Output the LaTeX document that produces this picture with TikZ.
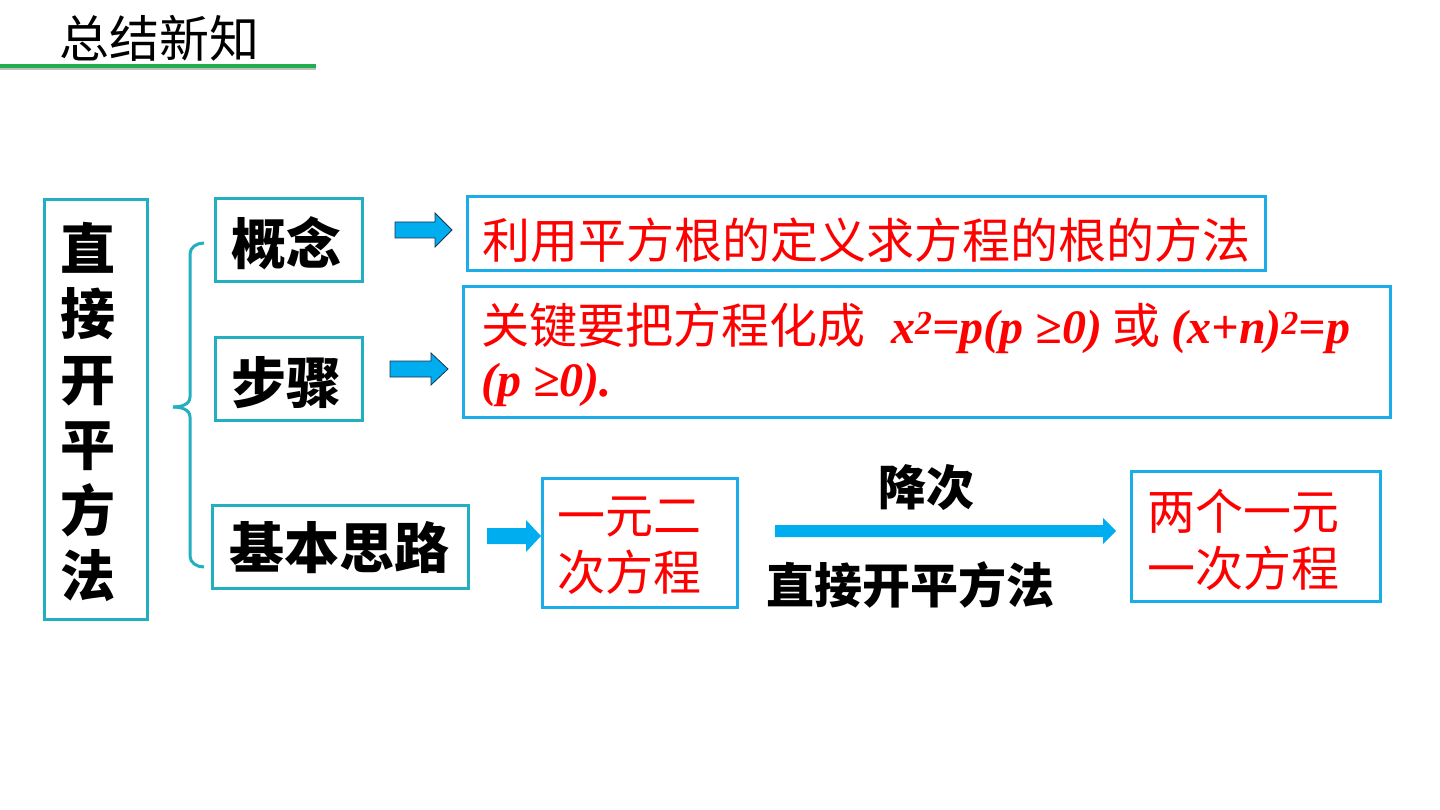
\documentclass[tikz,border=0pt]{standalone}
\usepackage{fontspec}
\newfontfamily\cjk{Noto Sans CJK SC}
\newfontfamily\tnr{Liberation Serif}
\definecolor{teal1}{HTML}{22AFC0}
\definecolor{sky}{HTML}{1AADE8}
\definecolor{arrowfill}{HTML}{00AEEF}
\definecolor{arrowline}{HTML}{1F3050}
\definecolor{red1}{HTML}{FF0000}
\definecolor{green1}{HTML}{22AE4C}
\tikzset{
  lbox/.style={draw=teal1, line width=3pt, inner sep=0pt, fill=white},
  rbox/.style={draw=sky, line width=3pt, inner sep=0pt, fill=white},
  btext/.style={inner sep=0pt, font=\cjk\bfseries\fontsize{55}{60}\selectfont, text=black},
  rtext/.style={inner sep=0pt, font=\cjk\fontsize{48}{57}\selectfont, text=red1},
  mtext/.style={inner sep=0pt, font=\cjk\bfseries\fontsize{48}{52}\selectfont, text=black},
  bracestyle/.style={draw=teal1, line width=3pt},
  blockarrow/.style={fill=arrowfill, draw=arrowline, line width=0.8pt},
  flatarrow/.style={fill=arrowfill, draw=none}
}
\newcommand{\mth}[1]{{\tnr\bfseries\itshape #1}}
\begin{document}
\begin{tikzpicture}[x=1pt,y=-1pt]
\useasboundingbox (0,0) rectangle (1440,810);
% title
\node[inner sep=0pt, font=\cjk\fontsize{50}{54}\selectfont] (title) at (159,38) {总结新知};
\draw[line width=3pt, gray!50] (0,69) -- (316,69);
\draw[line width=4pt, green1] (0,66) -- (316,66);
% main vertical box
\node[lbox, minimum width=103pt, minimum height=419pt] (main) at (95.5,409.5) {};
\node[btext, align=center, font=\cjk\bfseries\fontsize{55}{65.5}\selectfont] (maintxt) at (88,412) {直\\接\\开\\平\\方\\法};
% brace
\coordinate (bt) at (204,243);
\coordinate (bm) at (173,407);
\coordinate (bb) at (204,567);
\draw[bracestyle] (bt) to[out=180,in=90] (190,254) -- (190,397) to[out=270,in=0] (bm);
\draw[bracestyle] (bm) to[out=0,in=90] (190,417) -- (190,556) to[out=270,in=180] (bb);
% left category boxes
\node[lbox, minimum width=147pt, minimum height=83pt] (gn) at (288.5,240.5) {};
\node[btext] (gntxt) at (286,243) {概念};
\node[lbox, minimum width=147pt, minimum height=83pt] (bz) at (288.5,378.5) {};
\node[btext] (bztxt) at (286,383) {步骤};
\node[lbox, minimum width=256pt, minimum height=83pt] (jb) at (340,546.5) {};
\node[btext] (jbtxt) at (339,548) {基本思路};
% right boxes
\node[rbox, minimum width=798pt, minimum height=74pt] (def) at (866,234) {};
\node[rtext, anchor=west] (deftxt) at (482,240) {利用平方根的定义求方程的根的方法};
\node[rbox, minimum width=927pt, minimum height=130pt] (stp) at (926.5,352) {};
\node[rtext, anchor=west] (stp1) at (481,328) {关键要把方程化成\hspace{26pt}\mth{x\textsuperscript{2}=p(p ≥0)} 或 \mth{(x+n)\textsuperscript{2}=p}};
\node[rtext, anchor=west] (stp2) at (481,385) {\mth{(p ≥0).}};
\node[rbox, minimum width=195pt, minimum height=129pt] (yy) at (639.5,542.5) {};
\node[rtext, align=center] (yytxt) at (629,546) {一元二\\次方程};
\node[rbox, minimum width=249pt, minimum height=130pt] (lg) at (1255.5,536) {};
\node[rtext, align=center] (lgtxt) at (1243,540) {两个一元\\一次方程};
% labels on long arrow
\node[mtext] (jc) at (926,488) {降次};
\node[mtext] (zj) at (910,585) {直接开平方法};
% block arrows
\draw[blockarrow] (395,222) -- (435,222) -- (435,213) -- (452,230) -- (435,247) -- (435,238) -- (395,238) -- cycle;
\draw[blockarrow] (390,361) -- (431,361) -- (431,353) -- (448,369) -- (431,385) -- (431,377) -- (390,377) -- cycle;
\draw[flatarrow] (487,528) -- (526,528) -- (526,520) -- (541,536) -- (526,552) -- (526,544) -- (487,544) -- cycle;
\draw[flatarrow] (775,525) -- (1103,525) -- (1103,518) -- (1116,531) -- (1103,544) -- (1103,537) -- (775,537) -- cycle;
\end{tikzpicture}
\end{document}
